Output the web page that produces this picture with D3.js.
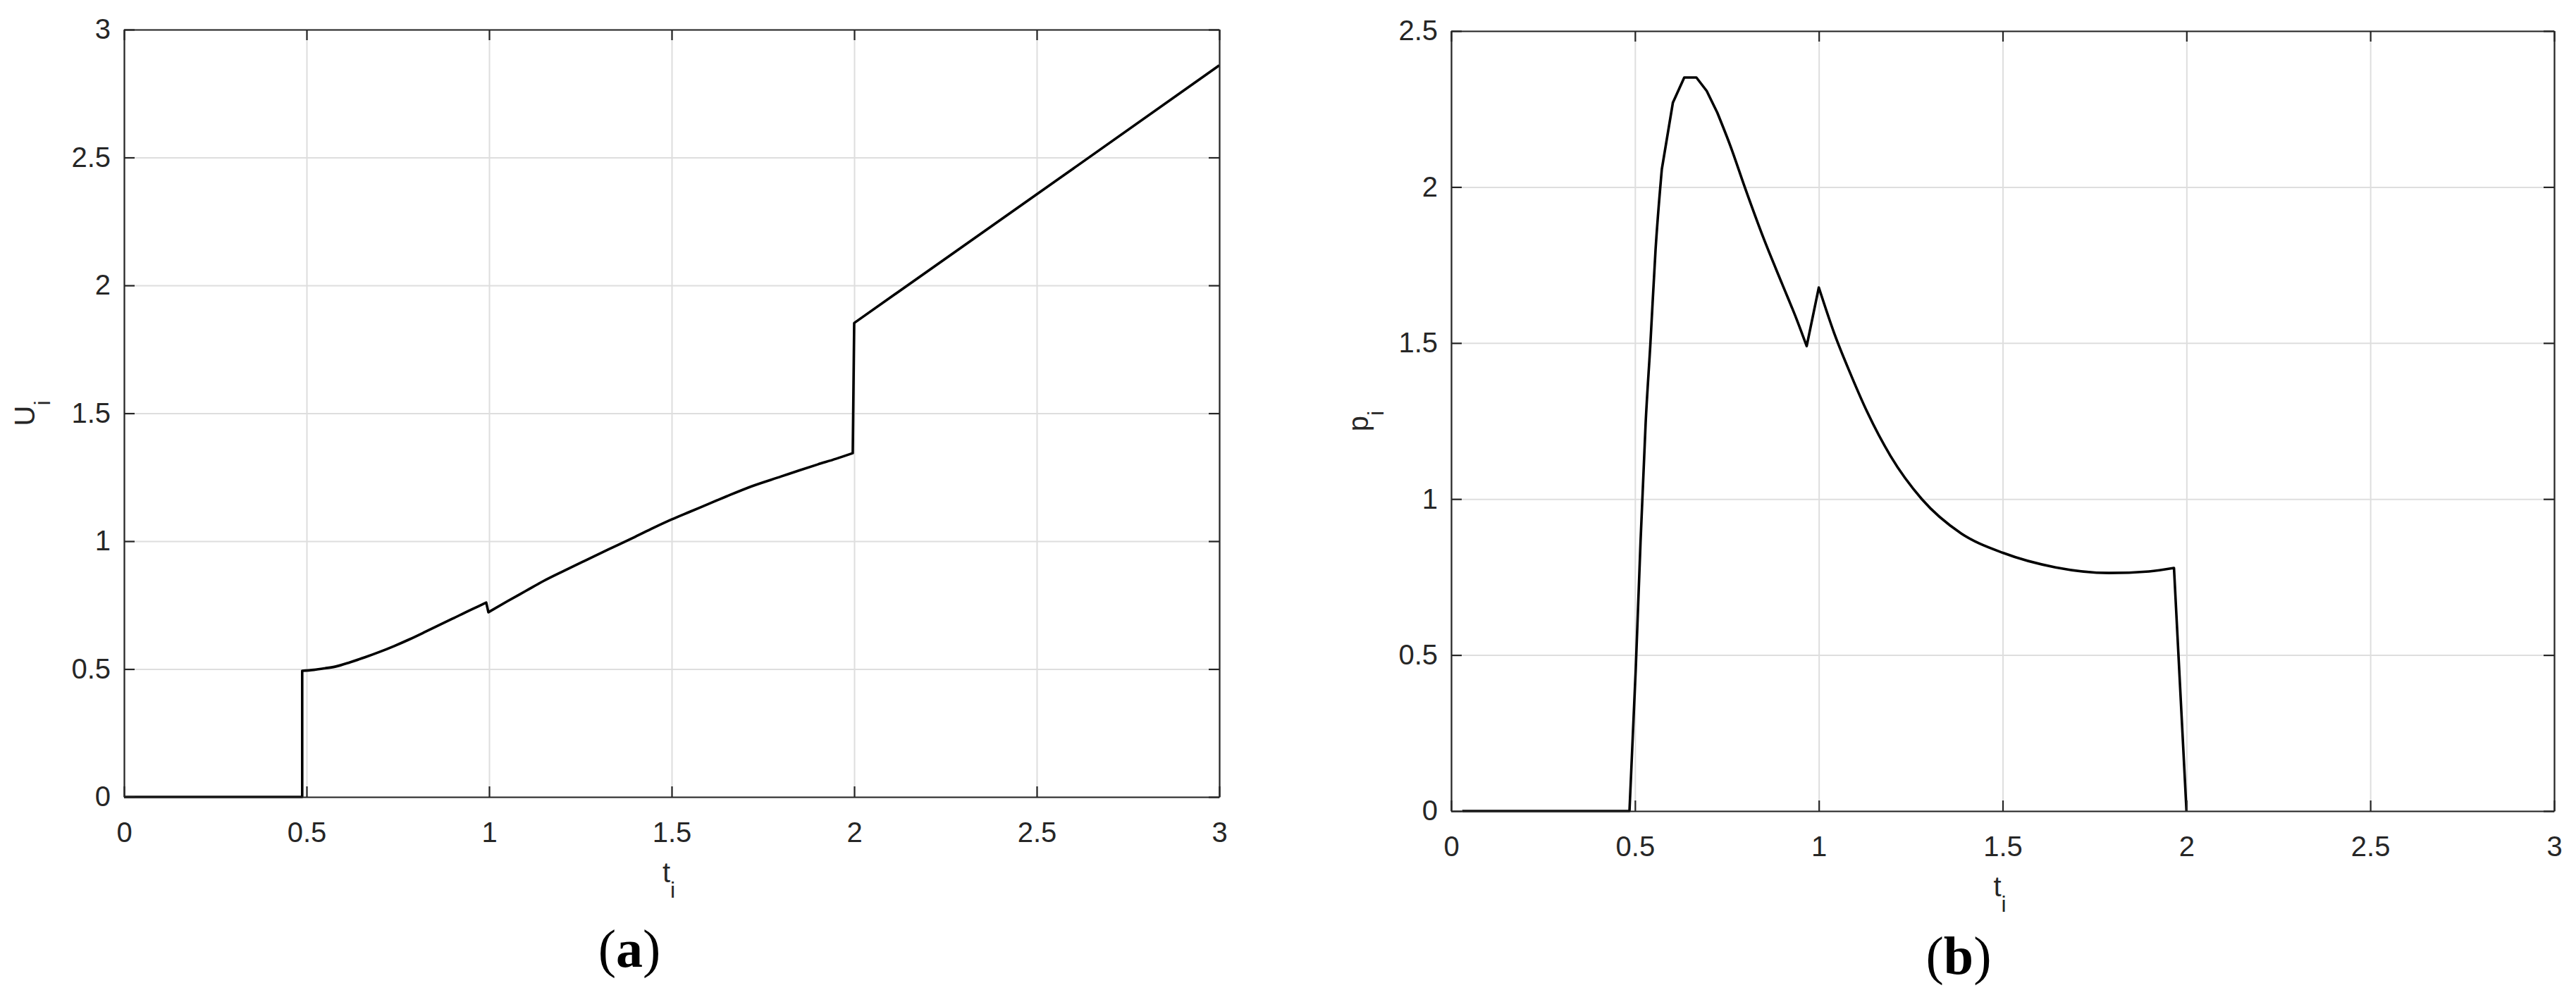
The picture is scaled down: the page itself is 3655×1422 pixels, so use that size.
<!DOCTYPE html>
<html>
<head>
<meta charset="utf-8">
<script src="https://cdn.jsdelivr.net/npm/d3@7"></script>
<style>
  html, body { margin: 0; padding: 0; background: #ffffff; }
  svg { display: block; }
</style>
</head>
<body>
<svg id="chart" width="3655" height="1422"></svg>
<script>
// ---------- DATA ----------
// Panel (a): U_i versus t_i
const tU = [0, 0.488, 0.488, 0.52, 0.55, 0.58, 0.62, 0.66, 0.70, 0.74, 0.78, 0.82, 0.86, 0.90, 0.94, 0.97, 0.992,
            0.998, 1.05, 1.10, 1.15, 1.205, 1.26, 1.326, 1.40, 1.45, 1.50, 1.55, 1.60, 1.65, 1.72, 1.80, 1.85, 1.90, 1.95, 1.996,
            2.0, 2.5, 3.0];
const U  = [0, 0, 0.493, 0.497, 0.503, 0.510, 0.527, 0.546, 0.567, 0.590, 0.615, 0.642, 0.670, 0.697, 0.725, 0.745, 0.760,
            0.722, 0.765, 0.805, 0.845, 0.884, 0.922, 0.967, 1.017, 1.052, 1.085, 1.115, 1.145, 1.175, 1.215, 1.253, 1.277, 1.300, 1.322, 1.344,
            1.853, 2.356, 2.860];
// indices of sharp corners in U (jumps)
const cornersU = [0, 1, 2, 16, 17, 35, 36, 38];

// Panel (b): p_i versus t_i
const tP = [0.03, 0.485, 0.502, 0.515, 0.529, 0.542, 0.556, 0.573, 0.603, 0.634, 0.667, 0.695, 0.724, 0.76, 0.80, 0.85, 0.90, 0.94, 0.967,
            1.0, 1.042, 1.088, 1.132, 1.195, 1.28, 1.387, 1.502, 1.644, 1.789, 1.898, 1.966, 2.0];
const P  = [0, 0, 0.454, 0.86, 1.244, 1.50, 1.80, 2.057, 2.27, 2.351, 2.351, 2.308, 2.238, 2.13, 1.995, 1.835, 1.69, 1.575, 1.49,
            1.678, 1.531, 1.396, 1.278, 1.138, 1.0, 0.89, 0.827, 0.781, 0.763, 0.768, 0.779, 0];
// indices of sharp corners in P
const cornersP = [0, 1, 7, 8, 9, 10, 11, 12, 18, 19, 30, 31];

const xTicks  = [0, 0.5, 1, 1.5, 2, 2.5, 3];
const yTicksA = [0, 0.5, 1, 1.5, 2, 2.5, 3];
const yTicksB = [0, 0.5, 1, 1.5, 2, 2.5];
const panelLabels = ["(a)", "(b)"];
const yLabels = ["U", "p"];

// ---------- DRAW ----------
const svg = d3.select("#chart");
svg.append("rect").attr("width", 3655).attr("height", 1422).attr("fill", "#ffffff");

const AX = "#262626";
const FONT = "'Liberation Sans', Arial, Helvetica, sans-serif";

const panels = [
  { left: 176, right: 1730, top: 42, bottom: 1131, yMax: 3, yTicks: yTicksA, t: tU, v: U, corners: cornersU,
    ylab: yLabels[0], ylabX: 49, plab: panelLabels[0], plabX: 893, plabY: 1372 },
  { left: 2059, right: 3624, top: 44, bottom: 1151, yMax: 2.5, yTicks: yTicksB, t: tP, v: P, corners: cornersP,
    ylab: yLabels[1], ylabX: 1941, plab: panelLabels[1], plabX: 2779, plabY: 1382 }
];

const fmt = d => String(d);

panels.forEach(p => {
  const x = d3.scaleLinear().domain([0, 3]).range([p.left, p.right]);
  const y = d3.scaleLinear().domain([0, p.yMax]).range([p.bottom, p.top]);
  const w = p.right - p.left, h = p.bottom - p.top;
  const g = svg.append("g");

  // grid
  const gx = g.append("g").attr("transform", `translate(0,${p.bottom})`)
    .call(d3.axisBottom(x).tickValues(xTicks).tickSize(-h).tickFormat(""));
  const gy = g.append("g").attr("transform", `translate(${p.left},0)`)
    .call(d3.axisLeft(y).tickValues(p.yTicks).tickSize(-w).tickFormat(""));
  [gx, gy].forEach(s => {
    s.select(".domain").remove();
    s.selectAll("line").attr("stroke", "#dedede").attr("stroke-width", 2);
  });

  // data line: smooth pieces between sharp corners
  const data = p.t.map((t, i) => [t, p.v[i]]);
  const line = d3.line().x(d => x(d[0])).y(d => y(d[1])).curve(d3.curveMonotoneX);
  let dStr = "";
  for (let k = 0; k < p.corners.length - 1; k++) {
    const piece = data.slice(p.corners[k], p.corners[k + 1] + 1);
    let s = line(piece);
    if (k > 0) s = "L" + s.slice(1); // continue the same path
    dStr += s;
  }
  g.append("path")
    .attr("fill", "none").attr("stroke", "#000000").attr("stroke-width", 3.6)
    .attr("stroke-linejoin", "round").attr("stroke-linecap", "butt")
    .attr("d", dStr);

  // axes (MATLAB style box with inward ticks)
  const styleAxis = (s) => {
    s.select(".domain").attr("stroke", AX).attr("stroke-width", 2.2);
    s.selectAll(".tick line").attr("stroke", AX).attr("stroke-width", 2.2);
    s.selectAll(".tick text").attr("fill", AX).attr("font-family", FONT).attr("font-size", 40);
  };
  g.append("g").attr("transform", `translate(0,${p.bottom})`)
    .call(d3.axisBottom(x).tickValues(xTicks).tickSize(-15).tickSizeOuter(0).tickPadding(35.6).tickFormat(fmt))
    .call(styleAxis);
  g.append("g").attr("transform", `translate(0,${p.top})`)
    .call(d3.axisTop(x).tickValues(xTicks).tickSize(-15).tickSizeOuter(0).tickFormat(""))
    .call(styleAxis);
  g.append("g").attr("transform", `translate(${p.left},0)`)
    .call(d3.axisLeft(y).tickValues(p.yTicks).tickSize(-15).tickSizeOuter(0).tickPadding(19).tickFormat(fmt))
    .call(styleAxis);
  g.append("g").attr("transform", `translate(${p.right},0)`)
    .call(d3.axisRight(y).tickValues(p.yTicks).tickSize(-15).tickSizeOuter(0).tickFormat(""))
    .call(styleAxis);

  // x axis title t_i
  const xt = g.append("text")
    .attr("x", (p.left + p.right) / 2 - 4).attr("y", p.bottom + 121)
    .attr("text-anchor", "middle").attr("font-family", FONT).attr("font-size", 40).attr("fill", AX);
  xt.append("tspan").text("t");
  xt.append("tspan").attr("dy", 22).attr("font-size", 32).text("i");

  // y axis title
  const yt = g.append("text")
    .attr("transform", `translate(${p.ylabX},${(p.top + p.bottom) / 2}) rotate(-90)`)
    .attr("text-anchor", "middle").attr("font-family", FONT).attr("font-size", 40).attr("fill", AX);
  yt.append("tspan").text(p.ylab);
  yt.append("tspan").attr("dy", 22).attr("font-size", 32).text("i");

  // panel label
  const pl = svg.append("text")
    .attr("x", p.plabX).attr("y", p.plabY)
    .attr("text-anchor", "middle").attr("font-family", "'Liberation Serif', 'Times New Roman', serif")
    .attr("font-size", 76).attr("fill", "#000");
  pl.append("tspan").text(p.plab[0]);
  pl.append("tspan").attr("font-weight", "bold").text(p.plab[1]);
  pl.append("tspan").text(p.plab[2]);
});
</script>
</body>
</html>
